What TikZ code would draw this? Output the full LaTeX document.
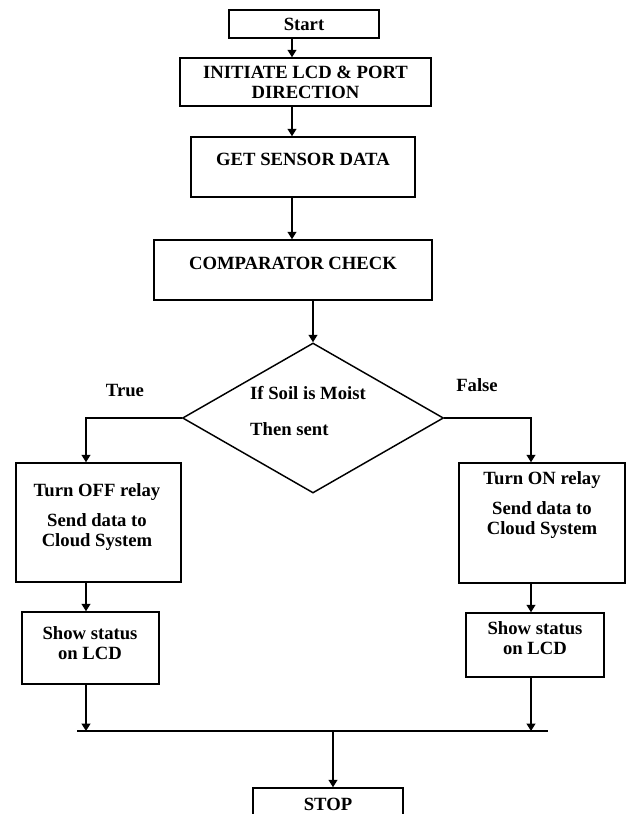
\documentclass[tikz,border=0pt]{standalone}
\usepackage{fontspec}
\setmainfont{Liberation Serif}
\usetikzlibrary{arrows.meta,shapes.geometric}

\newdimen\pxunit
\pxunit=0.75pt

\tikzset{
  box/.style={draw, line width=1.1pt, inner sep=0pt},
  txt/.style={font=\bfseries\fontsize{14}{15}\selectfont, align=center, inner sep=0pt},
  arr/.style={-{Triangle[length=5.5pt,width=6.5pt]}, line width=1.2pt},
}

\begin{document}
\begin{tikzpicture}[x=\pxunit, y=-\pxunit]
  \useasboundingbox (0,0) rectangle (626,814);

  % Main column
  \node[box, txt, minimum width=150\pxunit, minimum height=28\pxunit] (start) at (304,24) {Start};
  \node[box, txt, minimum width=251\pxunit, minimum height=48\pxunit] (init) at (305.5,82) {INITIATE LCD \& PORT\\DIRECTION};
  \node[box, minimum width=224\pxunit, minimum height=60\pxunit] (sensor) at (303,167) {};
  \node[txt] (sensorT) at (303,159) {GET SENSOR DATA};
  \node[box, minimum width=278\pxunit, minimum height=60\pxunit] (comp) at (293,270) {};
  \node[txt] (compT) at (293,263) {COMPARATOR CHECK};

  % Decision
  \node[diamond, draw, line width=1.1pt, inner sep=0pt, minimum width=261\pxunit, minimum height=150\pxunit] (dec) at (313,418) {};
  \node[txt, align=left] (decT) at (308,411) {If Soil is Moist\\[12pt]Then sent};
  \node[txt] (trueT) at (125,390) {True};
  \node[txt] (falseT) at (477,385) {False};

  % Branches
  \node[box, minimum width=165\pxunit, minimum height=119\pxunit] (off) at (98.5,522.5) {};
  \node[txt] (offT) at (97,517) {Turn OFF relay\\[8pt]Send data to\\Cloud System};
  \node[box, minimum width=166\pxunit, minimum height=120\pxunit] (on) at (542,523) {};
  \node[txt] (onT) at (542,505) {Turn ON relay\\[8pt]Send data to\\Cloud System};
  \node[box, minimum width=137\pxunit, minimum height=72\pxunit] (showL) at (90.5,648) {};
  \node[txt] (showLT) at (90,643) {Show status\\on LCD};
  \node[box, minimum width=138\pxunit, minimum height=64\pxunit] (showR) at (535,645) {};
  \node[txt] (showRT) at (535,638) {Show status\\on LCD};
  \node[box, txt, minimum width=150\pxunit, minimum height=32\pxunit] (stop) at (328,804) {STOP};

  % Connectors
  \coordinate (spine) at (292,0);
  \coordinate (lcol) at (86,0);
  \coordinate (rcol) at (531,0);
  \coordinate (joinL) at (77,731);
  \coordinate (joinR) at (548,731);
  \coordinate (merge) at (333,731);

  \foreach \a/\b in {start/init, init/sensor, sensor/comp}
    \draw[arr] (\a.south -| spine) -- (\b.north -| spine);
  \draw[arr] (comp.south -| dec.north) -- (dec.north);
  \draw[arr] (dec.west) -| (off.north -| lcol);
  \draw[arr] (dec.east) -| (on.north -| rcol);
  \draw[arr] (off.south -| lcol) -- (showL.north -| lcol);
  \draw[arr] (on.south -| rcol) -- (showR.north -| rcol);
  \draw[arr] (showL.south -| lcol) -- (joinL -| lcol);
  \draw[arr] (showR.south -| rcol) -- (joinR -| rcol);
  \draw[line width=1.1pt] (joinL) -- (joinR);
  \draw[arr] (merge) -- (merge |- stop.north);
\end{tikzpicture}
\end{document}
